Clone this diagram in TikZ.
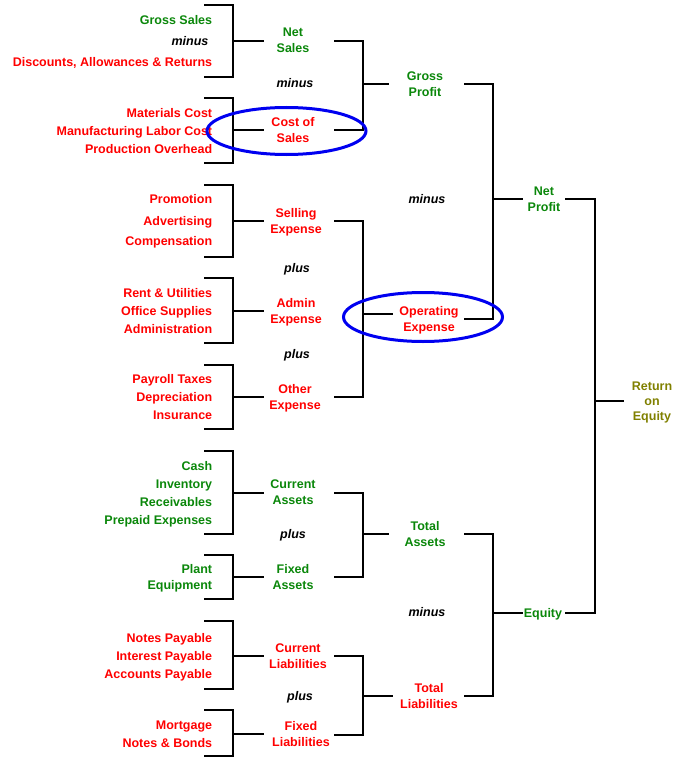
\documentclass[tikz,border=0pt]{standalone}
\usepackage{fontspec}
\setmainfont{Liberation Sans}
\definecolor{cgreen}{RGB}{10,135,10}
\definecolor{cred}{RGB}{255,0,0}
\definecolor{colive}{RGB}{128,128,0}
\definecolor{cblue}{RGB}{0,0,240}
\newcommand\leftbrk[4]{%
  \coordinate (#1t) at (204,#2);
  \coordinate (#1b) at (204,#3);
  \coordinate (#1v) at (233,#4);
  \coordinate (#1e) at (264,#4);
  \draw (#1t) -| (#1v) |- (#1b);
  \draw (#1v) -- (#1e);}
\newcommand\joinbrk[6]{% name, xleft, xv, y1, y2, ystub
  \coordinate (#1a) at (#2,#4);
  \coordinate (#1b) at (#2,#5);
  \coordinate (#1v) at (#3,#6);
  \draw (#1a) -| (#1v) |- (#1b);}
\begin{document}
\begin{tikzpicture}[x=1pt,y=-1pt,line width=1.7pt,
  base/.style={font=\fontsize{12.5}{16}\selectfont\bfseries,inner sep=0pt,text depth=0pt},
  itemg/.style={base,anchor=east,text=cgreen},
  itemr/.style={base,anchor=east,text=cred},
  midg/.style={base,align=center,text=cgreen},
  midr/.style={base,align=center,text=cred},
  opword/.style={base,font=\fontsize{12.5}{16}\selectfont\bfseries\itshape},
  ring/.style={draw=cblue,line width=3pt}]
\useasboundingbox (0,0) rectangle (673,757);

% left items
\node[itemg] (gs) at (213,20) {Gross Sales};
\node[opword] (m1) at (190,41) {minus};
\node[itemr] (disc) at (213,62) {Discounts, Allowances \& Returns};
\node[itemr] (mat) at (213,113) {Materials Cost};
\node[itemr] (lab) at (213,131) {Manufacturing Labor Cost};
\node[itemr] (ovh) at (213,149) {Production Overhead};
\node[itemr] (promo) at (213,199) {Promotion};
\node[itemr] (adv) at (213,221) {Advertising};
\node[itemr] (comp) at (213,241) {Compensation};
\node[itemr] (rent) at (213,293) {Rent \& Utilities};
\node[itemr] (office) at (213,311) {Office Supplies};
\node[itemr] (admn) at (213,329) {Administration};
\node[itemr] (payroll) at (213,379) {Payroll Taxes};
\node[itemr] (depr) at (213,397) {Depreciation};
\node[itemr] (ins) at (213,415) {Insurance};
\node[itemg] (cash) at (213,466) {Cash};
\node[itemg] (inv) at (213,484) {Inventory};
\node[itemg] (rec) at (213,502) {Receivables};
\node[itemg] (prep) at (213,520) {Prepaid Expenses};
\node[itemg] (plant) at (213,569) {Plant};
\node[itemg] (equip) at (213,585) {Equipment};
\node[itemr] (np) at (213,638) {Notes Payable};
\node[itemr] (ip) at (213,656) {Interest Payable};
\node[itemr] (ap) at (213,674) {Accounts Payable};
\node[itemr] (mort) at (213,725) {Mortgage};
\node[itemr] (bonds) at (213,743) {Notes \& Bonds};

% middle nodes
\node[midg] (netsales) at (293,40.5) {Net\\Sales};
\node[midr] (cos) at (293,130) {Cost of\\Sales};
\node[midg] (gp) at (425,84) {Gross\\Profit};
\node[midg] (netprofit) at (544,199.5) {Net\\Profit};
\node[base,align=center,text=colive,font=\fontsize{12.5}{15}\selectfont\bfseries] (roe) at (652,401) {Return\\on\\Equity};
\node[midr] (sell) at (296,221) {Selling\\Expense};
\node[midr] (admin) at (296,311) {Admin\\Expense};
\node[midr] (other) at (295,397) {Other\\Expense};
\node[midr] (opex) at (429,318.5) {Operating\\Expense};
\node[midg] (ca) at (293,492) {Current\\Assets};
\node[midg] (fa) at (293,577) {Fixed\\Assets};
\node[midg] (ta) at (425,534) {Total\\Assets};
\node[midg] (equity) at (543,613) {Equity};
\node[midr] (tl) at (429,695.5) {Total\\Liabilities};
\node[midr] (cl) at (298,656) {Current\\Liabilities};
\node[midr] (fl) at (301,734) {Fixed\\Liabilities};

% operator words
\node[opword] (m2) at (295,83) {minus};
\node[opword] (m3) at (427,199) {minus};
\node[opword] (p1) at (297,268) {plus};
\node[opword] (p2) at (297,354) {plus};
\node[opword] (p3) at (293,534) {plus};
\node[opword] (m4) at (427,612) {minus};
\node[opword] (p4) at (300,696) {plus};

% left brackets
\leftbrk{gsb}{5}{77}{41}
\leftbrk{cosb}{98}{163}{130}
\leftbrk{sellb}{185}{257}{221}
\leftbrk{admb}{278}{343}{311}
\leftbrk{othb}{365}{429}{397}
\leftbrk{cab}{451}{534}{493}
\leftbrk{fab}{555}{599}{577}
\leftbrk{clb}{621}{689}{656}
\leftbrk{flb}{710}{756}{734}

% second level joins
\joinbrk{j1}{334}{363}{41}{130}{84}
\draw (j1v) -- (389,84);
\joinbrk{j2}{334}{363}{221}{397}{314}
\draw (j2v) -- (393,314);
\joinbrk{j3}{334}{363}{493}{577}{534}
\draw (j3v) -- (389,534);
\joinbrk{j4}{334}{363}{656}{735}{696}
\draw (j4v) -- (393,696);

% third level
\joinbrk{k1}{464}{493}{84}{319}{199}
\draw (k1v) -- (523,199);
\joinbrk{k2}{464}{493}{534}{696}{613}
\draw (k2v) -- (523,613);

% fourth level
\joinbrk{r1}{565}{595}{199}{613}{401}
\draw (r1v) -- (624,401);

% highlight rings
\draw[ring] (286.5,131) ellipse [x radius=79.5, y radius=23.5];
\draw[ring] (423,317) ellipse [x radius=79.5, y radius=24.5];
\end{tikzpicture}
\end{document}
